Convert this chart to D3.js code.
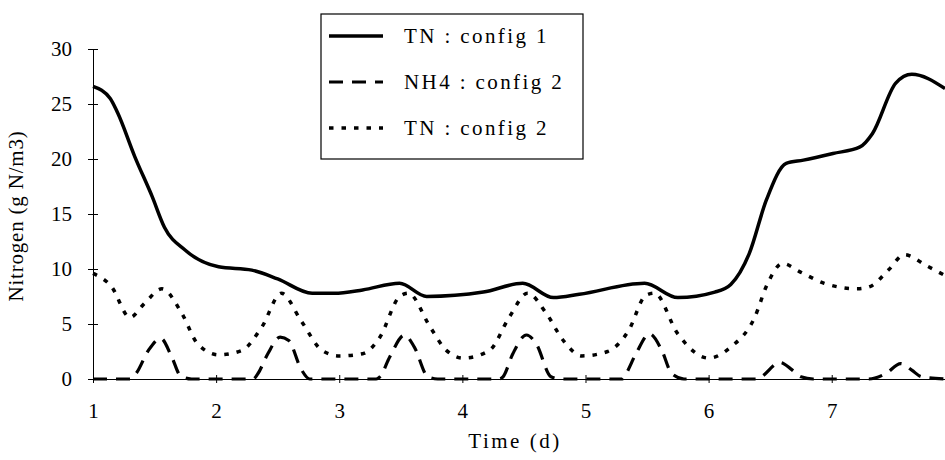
<!DOCTYPE html>
<html>
<head>
<meta charset="utf-8">
<script src="https://cdn.jsdelivr.net/npm/d3@7"></script>
<style>
  body { margin: 0; background: #fff; }
  svg, svg text { font-family: "Liberation Serif", "Times New Roman", serif !important; }
</style>
</head>
<body>
<div id="chart"></div>
<script>
// TN : config 1 (solid)
var tnConfig1Time = [1.0, 1.14, 1.2, 1.34, 1.48, 1.58, 1.75, 2.02, 2.29, 2.5, 2.78, 2.96, 3.19, 3.49, 3.71, 4.17, 4.49, 4.74, 4.95, 5.48, 5.75, 6.05, 6.18, 6.33, 6.47, 6.63, 6.77, 7.01, 7.23, 7.33, 7.52, 7.65, 7.92];
var tnConfig1Value = [26.6, 25.5, 24.2, 20.2, 16.6, 13.8, 11.7, 10.2, 9.9, 9.1, 7.8, 7.8, 8.1, 8.7, 7.5, 7.9, 8.7, 7.4, 7.7, 8.7, 7.4, 7.9, 8.6, 11.4, 16.3, 19.6, 19.9, 20.5, 21.1, 22.3, 26.9, 27.7, 26.4];

// NH4 : config 2 (dashed)
var nh4Config2Time = [1.0, 1.3, 1.35, 1.45, 1.55, 1.64, 1.71, 1.8, 2.3, 2.34, 2.42, 2.52, 2.59, 2.69, 2.76, 3.3, 3.33, 3.41, 3.53, 3.61, 3.72, 3.8, 4.3, 4.33, 4.41, 4.52, 4.6, 4.72, 4.8, 5.3, 5.32, 5.41, 5.52, 5.62, 5.7, 5.8, 6.4, 6.43, 6.58, 6.67, 6.75, 6.85, 7.3, 7.44, 7.56, 7.65, 7.73, 7.92];
var nh4Config2Value = [0, 0, 0.5, 2.6, 3.7, 2.0, 0.3, 0, 0, 0.5, 2.3, 3.8, 3.5, 0.9, 0, 0, 0.2, 2.0, 4.0, 2.9, 0.2, 0, 0, 0.2, 2.3, 4.0, 3.2, 0.2, 0, 0, 0.3, 2.3, 4.1, 2.6, 0.5, 0, 0, 0.2, 1.5, 0.9, 0.2, 0, 0, 0.5, 1.4, 0.8, 0.2, 0];

// TN : config 2 (dotted)
var tnConfig2Time = [1.0, 1.15, 1.3, 1.42, 1.56, 1.72, 1.85, 2.02, 2.21, 2.37, 2.53, 2.69, 2.86, 3.0, 3.19, 3.33, 3.49, 3.56, 3.74, 3.87, 4.01, 4.22, 4.38, 4.53, 4.68, 4.82, 4.97, 5.18, 5.35, 5.49, 5.56, 5.75, 6.0, 6.18, 6.37, 6.48, 6.6, 6.75, 6.94, 7.21, 7.31, 7.46, 7.59, 7.77, 7.92];
var tnConfig2Value = [9.6, 8.4, 5.6, 6.9, 8.2, 6.0, 3.2, 2.2, 2.6, 4.7, 7.8, 5.3, 2.6, 2.1, 2.3, 3.8, 7.5, 7.8, 4.7, 2.6, 1.9, 2.6, 5.6, 7.8, 6.0, 3.5, 2.1, 2.5, 4.4, 7.6, 7.8, 4.1, 1.9, 2.9, 5.5, 8.7, 10.5, 9.7, 8.7, 8.2, 8.4, 9.9, 11.3, 10.3, 9.4];

var xTicks = [1, 2, 3, 4, 5, 6, 7];
var yTicks = [0, 5, 10, 15, 20, 25, 30];
var legendLabels = ["TN : config 1", "NH4 : config 2", "TN : config 2"];

var width = 945, height = 460;
var margin = { top: 49, right: 0, bottom: 81, left: 93 };

var svg = d3.select("#chart")
  .append("svg")
  .attr("width", width)
  .attr("height", height);

var x = d3.scaleLinear().domain([1, 7.92]).range([margin.left, width - margin.right]);
var y = d3.scaleLinear().domain([0, 30]).range([height - margin.bottom, margin.top]);

// axes
var xAxis = svg.append("g")
  .attr("transform", "translate(0," + y(0) + ")")
  .call(d3.axisBottom(x).tickValues(xTicks).tickSize(0).tickPadding(24).tickFormat(d3.format("d")));
xAxis.select(".domain").attr("stroke", "#000").attr("stroke-width", 1.2);
xAxis.selectAll(".tick text")
  .attr("font-size", 21)
  .attr("fill", "#000");
xAxis.selectAll(".tick").append("line")
  .attr("y1", -4).attr("y2", 4)
  .attr("stroke", "#000");

var yAxis = svg.append("g")
  .attr("transform", "translate(" + x(1) + ",0)")
  .call(d3.axisLeft(y).tickValues(yTicks).tickSize(0).tickPadding(21));
yAxis.select(".domain").attr("stroke", "#000").attr("stroke-width", 1);
yAxis.selectAll(".tick text")
  .attr("font-size", 21)
  .attr("fill", "#000");
yAxis.selectAll(".tick").append("line")
  .attr("x1", -5).attr("x2", 5)
  .attr("stroke", "#000");

// axis labels
svg.append("text")
  .attr("x", 515)
  .attr("y", 448)
  .attr("text-anchor", "middle")
  .attr("font-size", 21)
  .attr("letter-spacing", 2.5)
  .text("Time (d)");

svg.append("text")
  .attr("transform", "rotate(-90)")
  .attr("x", -216)
  .attr("y", 23)
  .attr("text-anchor", "middle")
  .attr("font-size", 21)
  .attr("letter-spacing", 0.8)
  .text("Nitrogen (g N/m3)");

// lines
var series = [
  { time: tnConfig1Time, value: tnConfig1Value, dash: null, width: 3.5 },
  { time: nh4Config2Time, value: nh4Config2Value, dash: "14,9", width: 3.2 },
  { time: tnConfig2Time, value: tnConfig2Value, dash: "4.5,8", width: 3.5 }
];

var line = d3.line()
  .x(function (d) { return x(d[0]); })
  .y(function (d) { return y(d[1]); })
  .curve(d3.curveMonotoneX);

svg.selectAll(".series")
  .data(series)
  .enter()
  .append("path")
  .attr("class", "series")
  .attr("fill", "none")
  .attr("stroke", "#000")
  .attr("stroke-width", function (d) { return d.width; })
  .attr("stroke-dasharray", function (d) { return d.dash; })
  .attr("d", function (d) {
    return line(d.time.map(function (t, i) { return [t, d.value[i]]; }));
  });

// legend
var legend = svg.append("g");
legend.append("rect")
  .attr("x", 321).attr("y", 14)
  .attr("width", 262).attr("height", 145)
  .attr("fill", "#fff")
  .attr("stroke", "#000")
  .attr("stroke-width", 1.2);

var rows = legend.selectAll(".row")
  .data(series)
  .enter()
  .append("g")
  .attr("transform", function (d, i) { return "translate(0," + (36 + i * 46) + ")"; });

rows.append("line")
  .attr("x1", 329).attr("x2", 383)
  .attr("stroke", "#000")
  .attr("stroke-width", function (d) { return d.width; })
  .attr("stroke-dasharray", function (d) { return d.dash; });

rows.append("text")
  .attr("x", 404)
  .attr("y", 7)
  .attr("font-size", 21)
  .attr("letter-spacing", 2.4)
  .text(function (d, i) { return legendLabels[i]; });
</script>
</body>
</html>
